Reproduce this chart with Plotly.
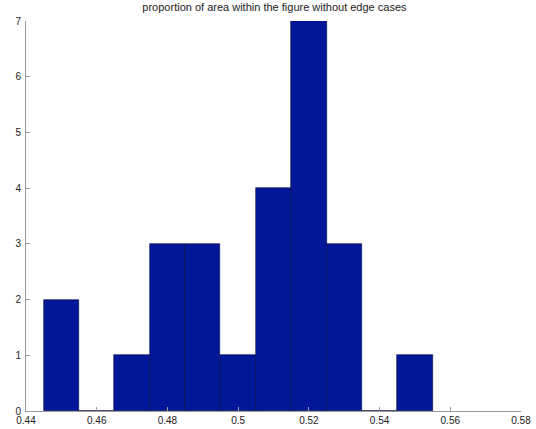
import plotly.graph_objects as go

bin_centers = [0.45, 0.46, 0.47, 0.48, 0.49, 0.50, 0.51, 0.52, 0.53, 0.54, 0.55]
counts = [2, 0, 1, 3, 3, 1, 4, 7, 3, 0, 1]
x_ticks = [0.44, 0.46, 0.48, 0.50, 0.52, 0.54, 0.56, 0.58]
x_tick_labels = ["0.44", "0.46", "0.48", "0.5", "0.52", "0.54", "0.56", "0.58"]
y_ticks = [0, 1, 2, 3, 4, 5, 6, 7]
title = "proportion of area within the figure without edge cases"

fig = go.Figure()
fig.add_trace(go.Bar(
    x=bin_centers, y=counts, width=0.01,
    marker=dict(color="#00179A", line=dict(color="#000A40", width=0.6)),
    cliponaxis=False,
))

axis_common = dict(
    showgrid=False, zeroline=False, showline=True, linecolor="#9a9a9a", linewidth=1,
    ticks="inside", ticklen=4, tickcolor="#9a9a9a", automargin=False,
    tickfont=dict(family="Liberation Sans, Arial, sans-serif", size=10, color="#222"),
)
fig.update_layout(
    width=536, height=429,
    margin=dict(l=26, r=15, t=21, b=18, autoexpand=False),
    paper_bgcolor="white", plot_bgcolor="white",
    title=dict(text=title, x=0.512, xanchor="center", y=0.993, yanchor="top",
               font=dict(family="Liberation Sans, Arial, sans-serif", size=11, color="#222")),
    xaxis=dict(range=[0.44, 0.58], tickvals=x_ticks, ticktext=x_tick_labels, **axis_common),
    yaxis=dict(range=[0, 7], tickvals=y_ticks, ticklabelstandoff=2, **axis_common),
    bargap=0, showlegend=False,
)
fig.write_html("out.html", config={"displayModeBar": False},
               post_script="document.body.style.margin='0';document.body.style.overflow='hidden';")
